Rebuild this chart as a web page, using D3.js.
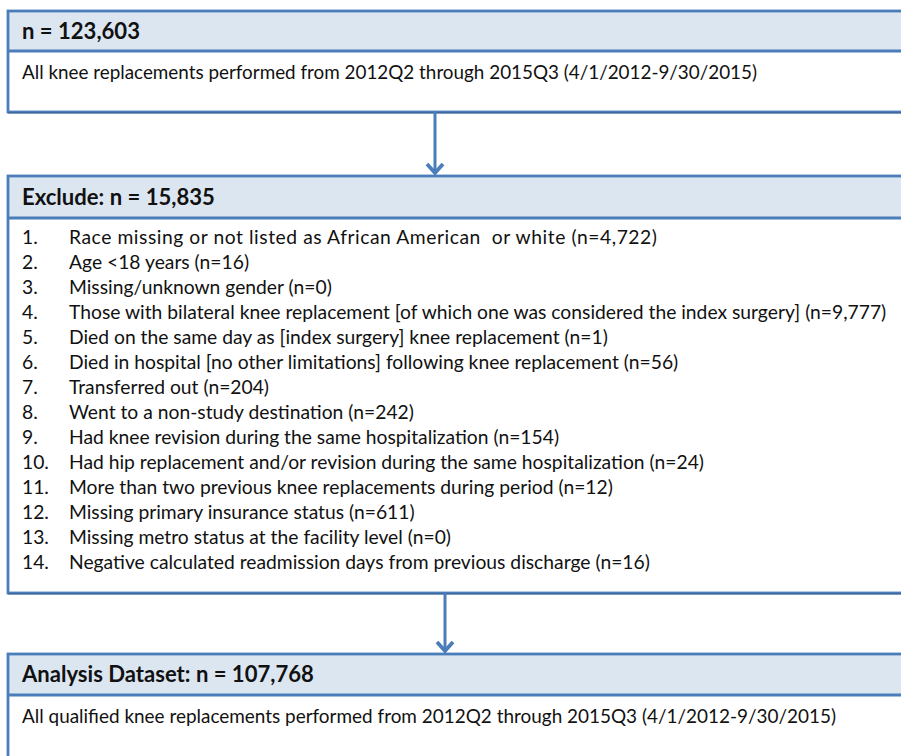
<!DOCTYPE html>
<html>
<head>
<meta charset="utf-8">
<script src="https://cdn.jsdelivr.net/npm/d3@7"></script>
<style>
  html, body { margin: 0; padding: 0; background: #ffffff; }
  svg { display: block; }
  text { font-family: Lato, "Open Sans", "Liberation Sans", sans-serif; fill: #111111; white-space: pre; }
</style>
</head>
<body>
<svg id="chart" width="901" height="756"></svg>
<script>
// ---- data ----
const boxTitles = ["n = 123,603", "Exclude: n = 15,835", "Analysis Dataset: n = 107,768"];
const boxBodies = [
  "All knee replacements performed from 2012Q2 through 2015Q3 (4/1/2012-9/30/2015)",
  null,
  "All qualified knee replacements performed from 2012Q2 through 2015Q3 (4/1/2012-9/30/2015)"
];
const exclusionNumbers = ["1.", "2.", "3.", "4.", "5.", "6.", "7.", "8.", "9.", "10.", "11.", "12.", "13.", "14."];
const exclusionItems = [
  "Race missing or not listed as African American  or white (n=4,722)",
  "Age <18 years (n=16)",
  "Missing/unknown gender (n=0)",
  "Those with bilateral knee replacement [of which one was considered the index surgery] (n=9,777)",
  "Died on the same day as [index surgery] knee replacement (n=1)",
  "Died in hospital [no other limitations] following knee replacement (n=56)",
  "Transferred out (n=204)",
  "Went to a non-study destination (n=242)",
  "Had knee revision during the same hospitalization (n=154)",
  "Had hip replacement and/or revision during the same hospitalization (n=24)",
  "More than two previous knee replacements during period (n=12)",
  "Missing primary insurance status (n=611)",
  "Missing metro status at the facility level (n=0)",
  "Negative calculated readmission days from previous discharge (n=16)"
];

// ---- layout ----
const svg = d3.select("#chart");
const stroke = "#4a7dba";
const strokeDark = "#3e6a9f";
const headFill = "#dce6f1";
const boxX = 8, boxRight = 910;
const boxes = [
  {top: 11, head: 51, bottom: 112},
  {top: 176, head: 218, bottom: 593},
  {top: 654, head: 695, bottom: 770}
];
const arrows = [{x: 435, y1: 112, y2: 175}, {x: 445, y1: 593, y2: 653}];

// scale for exclusion items
const yItem = d3.scaleLinear().domain([0, exclusionItems.length - 1]).range([237, 562]);

boxes.forEach((b, i) => {
  const g = svg.append("g");
  g.append("rect").attr("x", boxX).attr("y", b.top).attr("width", boxRight - boxX).attr("height", b.head - b.top)
    .attr("fill", headFill);
  g.append("rect").attr("x", boxX).attr("y", b.top).attr("width", boxRight - boxX).attr("height", b.bottom - b.top)
    .attr("fill", "none").attr("stroke", stroke).attr("stroke-width", 2.8);
  g.append("line").attr("x1", boxX).attr("x2", boxRight).attr("y1", b.bottom + 0.8).attr("y2", b.bottom + 0.8)
    .attr("stroke", strokeDark).attr("stroke-width", 1.4);
  g.append("line").attr("x1", boxX).attr("x2", boxRight).attr("y1", b.head).attr("y2", b.head)
    .attr("stroke", stroke).attr("stroke-width", 2.8);
  g.append("text").attr("class", "title").attr("x", 22).attr("y", (b.top + b.head) / 2).attr("dy", "0.36em")
    .attr("font-weight", "bold").text(boxTitles[i]);
  if (boxBodies[i]) {
    g.append("text").attr("class", "body bodyline").attr("x", 22).attr("y", b.head + 21).attr("dy", "0.36em")
      .text(boxBodies[i]);
  }
});

svg.append("g").selectAll("text").data(exclusionNumbers).join("text")
  .attr("class", "body").attr("x", 22).attr("y", (d, i) => yItem(i)).attr("dy", "0.36em").text(d => d);
svg.append("g").selectAll("text").data(exclusionItems).join("text")
  .attr("class", "body item").attr("x", 69).attr("y", (d, i) => yItem(i)).attr("dy", "0.36em").text(d => d);

// fit font sizes to reference widths
function fit(sel, refNode, target) {
  sel.attr("font-size", 20);
  const w = refNode.getComputedTextLength();
  sel.attr("font-size", 20 * target / w);
}
const items = svg.selectAll("text.item").nodes();
fit(svg.selectAll("text.body"), items[3], 818);
const titles = svg.selectAll("text.title").nodes();
fit(svg.selectAll("text.title"), titles[2], 292);

// small width corrections to match the reference's line lengths
const bodyLines = svg.selectAll("text.bodyline").nodes();
d3.select(bodyLines[0]).attr("textLength", 735).attr("lengthAdjust", "spacingAndGlyphs");
d3.select(bodyLines[1]).attr("textLength", 814).attr("lengthAdjust", "spacingAndGlyphs");
d3.select(items[0]).attr("textLength", 588).attr("lengthAdjust", "spacing");

// arrows
arrows.forEach(a => {
  const g = svg.append("g").attr("stroke", stroke).attr("fill", "none").attr("stroke-width", 3);
  g.append("line").attr("x1", a.x).attr("x2", a.x).attr("y1", a.y1).attr("y2", a.y2 - 2);
  g.append("path").attr("d", `M${a.x - 8},${a.y2 - 11} L${a.x},${a.y2 - 2} L${a.x + 8},${a.y2 - 11}`)
    .attr("stroke-linejoin", "miter").attr("stroke-width", 3.8);
});
</script>
</body>
</html>
